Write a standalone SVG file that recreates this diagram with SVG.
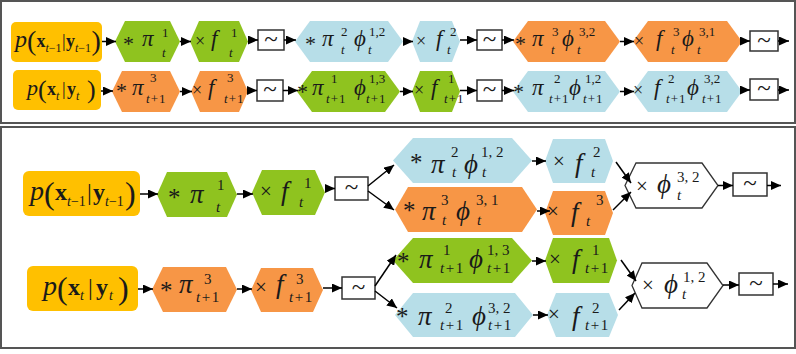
<svg xmlns="http://www.w3.org/2000/svg" width="796" height="354" viewBox="0 0 796 354">
<defs>
<marker id="ah" markerUnits="userSpaceOnUse" markerWidth="10" markerHeight="9" refX="10" refY="4.5" orient="auto"><path d="M0,0 L10,4.5 L0,9 z" fill="#000"/></marker>
<style>
text{font-family:"Liberation Serif","DejaVu Serif",serif;fill:#1a1a1a}
.i{font-style:italic}
.b{font-weight:bold}
.m1{font-size:23px;font-style:italic}
.s1{font-size:13px}
.m2{font-size:27px;font-style:italic}
.s2{font-size:15px}
.o1{font-size:18px}
.a1{font-size:22px}
.o2{font-size:21px}
.a2{font-size:25px}
.yel{fill:#FFC000}
.grn{fill:#8FC31F}
.org{fill:#F79646}
.blu{fill:#B7DEE8}
.wht{fill:#fff;stroke:#333;stroke-width:1.3}
.box{fill:#fff;stroke:#333;stroke-width:1.5}
.tl{font-size:25px;text-anchor:middle}
.cn line{stroke:#000;stroke-width:1.5;marker-end:url(#ah)}
.frame{fill:none;stroke:#555;stroke-width:2}
</style>
</defs>
<rect class="frame" x="1" y="1" width="794" height="122"/>
<rect class="frame" x="1" y="127" width="794" height="221"/>

<!-- ===== Top row 1 ===== -->
<g id="r1-prior">
<rect class="yel" x="11" y="22" width="91" height="40" rx="5"/>
<text><tspan class="i" font-size="24" x="15" y="47">p</tspan><tspan font-size="28" x="27" y="50">(</tspan><tspan class="b" font-size="18" x="36.5" y="47">x</tspan><tspan font-size="12" x="45.5" y="52"><tspan class="i">t</tspan>−1</tspan><tspan font-size="18" x="62" y="47">|</tspan><tspan class="b" font-size="18" x="66" y="47">y</tspan><tspan font-size="12" x="75" y="52"><tspan class="i">t</tspan>−1</tspan><tspan font-size="28" x="91.5" y="50">)</tspan></text>
</g>
<g id="r1-n1">
<polygon class="grn" points="115,41.5 125,21 170,21 180,41.5 170,62 125,62"/>
<text><tspan class="a1" x="123" y="51">*</tspan><tspan class="m1" x="142" y="46">π</tspan><tspan class="s1" x="162" y="37">1</tspan><tspan class="s1 i" x="162" y="57">t</tspan></text>
</g>
<g id="r1-n2">
<polygon class="grn" points="190,41.5 199,21 239,21 248,41.5 239,62 199,62"/>
<text><tspan class="o1" x="195" y="47">×</tspan><tspan class="m1" x="211" y="46">f</tspan><tspan class="s1" x="231" y="37">1</tspan><tspan class="s1 i" x="229" y="57">t</tspan></text>
</g>
<g id="r1-s1"><rect class="box" x="258" y="30" width="26" height="20"/><text class="tl" x="271" y="47">~</text></g>
<g id="r1-n3">
<polygon class="blu" points="295,41.5 310,21 388,21 403,41.5 388,62 310,62"/>
<text><tspan class="a1" x="305" y="51">*</tspan><tspan class="m1" x="322" y="46">π</tspan><tspan class="s1" x="341" y="36">2</tspan><tspan class="s1 i" x="341" y="54">t</tspan><tspan class="m1" x="354" y="46">ϕ</tspan><tspan class="s1" x="369" y="36">1,2</tspan><tspan class="s1 i" x="368" y="54">t</tspan></text>
</g>
<g id="r1-n4">
<polygon class="blu" points="412,41.5 420,21 452,21 460,41.5 452,62 420,62"/>
<text><tspan class="o1" x="416" y="47">×</tspan><tspan class="m1" x="436" y="46">f</tspan><tspan class="s1" x="450" y="36">2</tspan><tspan class="s1 i" x="447" y="54">t</tspan></text>
</g>
<g id="r1-s2"><rect class="box" x="477" y="30" width="25" height="20"/><text class="tl" x="489.5" y="47">~</text></g>
<g id="r1-n5">
<polygon class="org" points="513,41.5 528,21 605,21 620,41.5 605,62 528,62"/>
<text><tspan class="a1" x="515" y="51">*</tspan><tspan class="m1" x="532" y="46">π</tspan><tspan class="s1" x="552" y="36">3</tspan><tspan class="s1 i" x="551" y="54">t</tspan><tspan class="m1" x="562" y="46">ϕ</tspan><tspan class="s1" x="579" y="36">3,2</tspan><tspan class="s1 i" x="577" y="54">t</tspan></text>
</g>
<g id="r1-n6">
<polygon class="org" points="633,41.5 648,21 727,21 742,41.5 727,62 648,62"/>
<text><tspan class="o1" x="634" y="47">×</tspan><tspan class="m1" x="656" y="46">f</tspan><tspan class="s1" x="673" y="36">3</tspan><tspan class="s1 i" x="671" y="54">t</tspan><tspan class="m1" x="682" y="46">ϕ</tspan><tspan class="s1" x="699" y="36">3,1</tspan><tspan class="s1 i" x="697" y="54">t</tspan></text>
</g>
<g id="r1-s3"><rect class="box" x="750" y="31" width="28" height="20"/><text class="tl" x="764" y="48">~</text></g>

<!-- ===== Top row 2 ===== -->
<g id="r2-prior">
<rect class="yel" x="13" y="70" width="88" height="40" rx="5"/>
<text><tspan class="i" font-size="22" x="27" y="95">p</tspan><tspan font-size="26" x="38" y="98">(</tspan><tspan class="b" font-size="18" x="47" y="95">x</tspan><tspan class="i" font-size="12" x="56" y="100">t</tspan><tspan font-size="18" x="62" y="95">|</tspan><tspan class="b" font-size="18" x="67" y="95">y</tspan><tspan class="i" font-size="12" x="76" y="100">t</tspan><tspan font-size="26" x="87" y="98">)</tspan></text>
</g>
<g id="r2-n1">
<polygon class="org" points="112,91.5 122,71 170,71 180,91.5 170,112 122,112"/>
<text><tspan class="a1" x="116" y="98">*</tspan><tspan class="m1" x="132" y="95">π</tspan><tspan class="s1" x="150" y="82">3</tspan><tspan class="s1" x="146" y="103" letter-spacing="1"><tspan class="i">t</tspan>+1</tspan></text>
</g>
<g id="r2-n2">
<polygon class="org" points="191,91.5 200,71 239,71 248,91.5 239,112 200,112"/>
<text><tspan class="o1" x="192" y="96">×</tspan><tspan class="m1" x="208" y="95">f</tspan><tspan class="s1" x="227" y="82">3</tspan><tspan class="s1" x="224" y="103" letter-spacing="1"><tspan class="i">t</tspan>+1</tspan></text>
</g>
<g id="r2-s1"><rect class="box" x="257" y="80" width="26" height="21"/><text class="tl" x="270" y="97">~</text></g>
<g id="r2-n3">
<polygon class="grn" points="297,91.5 312,71 385,71 400,91.5 385,112 312,112"/>
<text><tspan class="a1" x="297" y="99">*</tspan><tspan class="m1" x="312" y="95">π</tspan><tspan class="s1" x="331" y="83">1</tspan><tspan class="s1" x="326" y="103" letter-spacing="1"><tspan class="i">t</tspan>+1</tspan><tspan class="m1" x="354" y="95">ϕ</tspan><tspan class="s1" x="369" y="83">1,3</tspan><tspan class="s1" x="366" y="103" letter-spacing="1"><tspan class="i">t</tspan>+1</tspan></text>
</g>
<g id="r2-n4">
<polygon class="grn" points="412,91.5 420,71 452,71 460,91.5 452,112 420,112"/>
<text><tspan class="o1" x="414" y="96">×</tspan><tspan class="m1" x="431" y="95">f</tspan><tspan class="s1" x="448" y="83">1</tspan><tspan class="s1" x="444" y="103" letter-spacing="1"><tspan class="i">t</tspan>+1</tspan></text>
</g>
<g id="r2-s2"><rect class="box" x="477" y="80" width="25" height="21"/><text class="tl" x="489.5" y="97">~</text></g>
<g id="r2-n5">
<polygon class="blu" points="513,91.5 528,71 605,71 620,91.5 605,112 528,112"/>
<text><tspan class="a1" x="513" y="99">*</tspan><tspan class="m1" x="532" y="95">π</tspan><tspan class="s1" x="554" y="83">2</tspan><tspan class="s1" x="549" y="103" letter-spacing="1"><tspan class="i">t</tspan>+1</tspan><tspan class="m1" x="569" y="95">ϕ</tspan><tspan class="s1" x="585" y="83">1,2</tspan><tspan class="s1" x="583" y="103" letter-spacing="1"><tspan class="i">t</tspan>+1</tspan></text>
</g>
<g id="r2-n6">
<polygon class="blu" points="633,91.5 648,71 727,71 742,91.5 727,112 648,112"/>
<text><tspan class="o1" x="633" y="96">×</tspan><tspan class="m1" x="654" y="95">f</tspan><tspan class="s1" x="668" y="83">2</tspan><tspan class="s1" x="666" y="103" letter-spacing="1"><tspan class="i">t</tspan>+1</tspan><tspan class="m1" x="687" y="95">ϕ</tspan><tspan class="s1" x="704" y="83">3,2</tspan><tspan class="s1" x="702" y="103" letter-spacing="1"><tspan class="i">t</tspan>+1</tspan></text>
</g>
<g id="r2-s3"><rect class="box" x="750" y="79" width="28" height="21"/><text class="tl" x="764" y="96">~</text></g>

<!-- ===== Bottom panel, upper flow ===== -->
<g id="b1-prior">
<rect class="yel" x="23" y="171" width="117" height="45" rx="6"/>
<text><tspan class="i" font-size="28" x="30" y="200">p</tspan><tspan font-size="32" x="44" y="204">(</tspan><tspan class="b" font-size="24" x="55" y="200">x</tspan><tspan font-size="14" x="67" y="206"><tspan class="i">t</tspan>−1</tspan><tspan font-size="24" x="87" y="200">|</tspan><tspan class="b" font-size="24" x="93" y="200">y</tspan><tspan font-size="14" x="105" y="206"><tspan class="i">t</tspan>−1</tspan><tspan font-size="32" x="125" y="204">)</tspan></text>
</g>
<g id="b1-n1">
<polygon class="grn" points="157,194.5 167,172 227,172 237,194.5 227,217 167,217"/>
<text><tspan class="a2" x="168" y="206">*</tspan><tspan class="m2" x="190" y="203">π</tspan><tspan class="s2" x="217" y="190">1</tspan><tspan class="s2 i" x="216" y="212">t</tspan></text>
</g>
<g id="b1-n2">
<polygon class="grn" points="252,192.5 262,170 315,170 325,192.5 315,215 262,215"/>
<text><tspan class="o2" x="260" y="198">×</tspan><tspan class="m2" x="281" y="200">f</tspan><tspan class="s2" x="304" y="188">1</tspan><tspan class="s2 i" x="299" y="207">t</tspan></text>
</g>
<g id="b1-s1"><rect class="box" x="335" y="177" width="33" height="23"/><text class="tl" x="351.5" y="195">~</text></g>
<g id="b1-n3">
<polygon class="blu" points="393,160.5 413,138 512,138 532,160.5 512,183 413,183"/>
<text><tspan class="a2" x="410" y="171">*</tspan><tspan class="m2" x="431" y="173">π</tspan><tspan class="s2" x="451" y="157">2</tspan><tspan class="s2 i" x="452" y="177">t</tspan><tspan class="m2" x="464" y="173">ϕ</tspan><tspan class="s2" x="481" y="157">1, 2</tspan><tspan class="s2 i" x="482" y="177">t</tspan></text>
</g>
<g id="b1-n4">
<polygon class="blu" points="545,161 553,139 605,139 613,161 605,183 553,183"/>
<text><tspan class="o2" x="553" y="168">×</tspan><tspan class="m2" x="575" y="172">f</tspan><tspan class="s2" x="593" y="157">2</tspan><tspan class="s2 i" x="591" y="177">t</tspan></text>
</g>
<g id="b1-n5">
<polygon class="org" points="395,209.5 408,187 522,187 537,209.5 522,232 408,232"/>
<text><tspan class="a2" x="403" y="219">*</tspan><tspan class="m2" x="422" y="220">π</tspan><tspan class="s2" x="441" y="205">3</tspan><tspan class="s2 i" x="442" y="225">t</tspan><tspan class="m2" x="456" y="220">ϕ</tspan><tspan class="s2" x="476" y="205">3, 1</tspan><tspan class="s2 i" x="477" y="225">t</tspan></text>
</g>
<g id="b1-n6">
<polygon class="org" points="545,213 553,191 605,191 613,213 605,235 553,235"/>
<text><tspan class="o2" x="547" y="218">×</tspan><tspan class="m2" x="571" y="221">f</tspan><tspan class="s2" x="596" y="205">3</tspan><tspan class="s2 i" x="586" y="226">t</tspan></text>
</g>
<g id="b1-n7">
<polygon class="wht" points="625,185.5 636,163 702,163 718,185.5 702,208 636,208"/>
<text><tspan class="o2" x="636" y="193">×</tspan><tspan class="m2" x="657" y="193">ϕ</tspan><tspan class="s2" x="677" y="182">3, 2</tspan><tspan class="s2 i" x="677" y="200">t</tspan></text>
</g>
<g id="b1-s2"><rect class="box" x="733" y="173" width="34" height="23"/><text class="tl" x="750" y="191">~</text></g>

<!-- ===== Bottom panel, lower flow ===== -->
<g id="b2-prior">
<rect class="yel" x="27" y="266" width="111" height="45" rx="6"/>
<text><tspan class="i" font-size="28" x="43" y="295">p</tspan><tspan font-size="32" x="57" y="299">(</tspan><tspan class="b" font-size="24" x="68" y="295">x</tspan><tspan class="i" font-size="14" x="80" y="300">t</tspan><tspan font-size="24" x="88" y="295">|</tspan><tspan class="b" font-size="24" x="96" y="295">y</tspan><tspan class="i" font-size="14" x="109" y="300">t</tspan><tspan font-size="32" x="118" y="299">)</tspan></text>
</g>
<g id="b2-n1">
<polygon class="org" points="152,289.5 163,267 226,267 237,289.5 226,312 163,312"/>
<text><tspan class="a2" x="160" y="299">*</tspan><tspan class="m2" x="179" y="293">π</tspan><tspan class="s2" x="204" y="284">3</tspan><tspan class="s2" x="196" y="302" letter-spacing="1.5"><tspan class="i">t</tspan>+1</tspan></text>
</g>
<g id="b2-n2">
<polygon class="org" points="251,290 261,268 313,268 323,290 313,312 261,312"/>
<text><tspan class="o2" x="255" y="294">×</tspan><tspan class="m2" x="276" y="293">f</tspan><tspan class="s2" x="296" y="284">3</tspan><tspan class="s2" x="289" y="302" letter-spacing="1.5"><tspan class="i">t</tspan>+1</tspan></text>
</g>
<g id="b2-s1"><rect class="box" x="342" y="277" width="33" height="22"/><text class="tl" x="358.5" y="295">~</text></g>
<g id="b2-n3">
<polygon class="grn" points="393,260.5 413,238 512,238 532,260.5 512,283 413,283"/>
<text><tspan class="a2" x="397" y="270">*</tspan><tspan class="m2" x="419" y="268">π</tspan><tspan class="s2" x="443" y="255">1</tspan><tspan class="s2" x="440" y="273" letter-spacing="1.5"><tspan class="i">t</tspan>+1</tspan><tspan class="m2" x="469" y="268">ϕ</tspan><tspan class="s2" x="487" y="255">1, 3</tspan><tspan class="s2" x="487" y="273" letter-spacing="1.5"><tspan class="i">t</tspan>+1</tspan></text>
</g>
<g id="b2-n4">
<polygon class="grn" points="545,260.5 553,238 609,238 617,260.5 609,283 553,283"/>
<text><tspan class="o2" x="549" y="266">×</tspan><tspan class="m2" x="572" y="268">f</tspan><tspan class="s2" x="592" y="255">1</tspan><tspan class="s2" x="585" y="273" letter-spacing="1.5"><tspan class="i">t</tspan>+1</tspan></text>
</g>
<g id="b2-n5">
<polygon class="blu" points="395,315 413,293 515,293 533,315 515,337 413,337"/>
<text><tspan class="a2" x="396" y="325">*</tspan><tspan class="m2" x="418" y="325">π</tspan><tspan class="s2" x="445" y="313">2</tspan><tspan class="s2" x="440" y="330" letter-spacing="1.5"><tspan class="i">t</tspan>+1</tspan><tspan class="m2" x="472" y="325">ϕ</tspan><tspan class="s2" x="488" y="313">3, 2</tspan><tspan class="s2" x="488" y="330" letter-spacing="1.5"><tspan class="i">t</tspan>+1</tspan></text>
</g>
<g id="b2-n6">
<polygon class="blu" points="547,315 556,293 609,293 618,315 609,337 556,337"/>
<text><tspan class="o2" x="548" y="321">×</tspan><tspan class="m2" x="572" y="325">f</tspan><tspan class="s2" x="592" y="313">2</tspan><tspan class="s2" x="585" y="330" letter-spacing="1.5"><tspan class="i">t</tspan>+1</tspan></text>
</g>
<g id="b2-n7">
<polygon class="wht" points="632,285.5 642,263 707,263 723,285.5 707,308 642,308"/>
<text><tspan class="o2" x="642" y="292">×</tspan><tspan class="m2" x="664" y="293">ϕ</tspan><tspan class="s2" x="683" y="282">1, 2</tspan><tspan class="s2 i" x="682" y="299">t</tspan></text>
</g>
<g id="b2-s2"><rect class="box" x="739" y="273" width="34" height="22"/><text class="tl" x="756" y="291">~</text></g>

<!-- ===== Connectors ===== -->
<g id="connectors" class="cn">
<line x1="102" y1="41.5" x2="116" y2="41.5"/>
<line x1="180" y1="41.5" x2="191" y2="41.5"/>
<line x1="248" y1="40" x2="258" y2="40"/>
<line x1="284" y1="40" x2="296" y2="40"/>
<line x1="403" y1="41.5" x2="413" y2="41.5"/>
<line x1="460" y1="40" x2="477" y2="40"/>
<line x1="502" y1="40" x2="514" y2="40"/>
<line x1="620" y1="41.5" x2="634" y2="41.5"/>
<line x1="742" y1="41" x2="750" y2="41"/>
<line x1="778" y1="41" x2="789" y2="41"/>

<line x1="101" y1="91" x2="113" y2="91"/>
<line x1="180" y1="91.5" x2="192" y2="91.5"/>
<line x1="248" y1="90.5" x2="257" y2="90.5"/>
<line x1="283" y1="90.5" x2="298" y2="90.5"/>
<line x1="400" y1="91.5" x2="413" y2="91.5"/>
<line x1="460" y1="90.5" x2="477" y2="90.5"/>
<line x1="502" y1="90.5" x2="514" y2="90.5"/>
<line x1="620" y1="91.5" x2="634" y2="91.5"/>
<line x1="742" y1="90" x2="750" y2="90"/>
<line x1="778" y1="90" x2="789" y2="90"/>

<line x1="140" y1="194" x2="158" y2="194"/>
<line x1="237" y1="194" x2="253" y2="194"/>
<line x1="325" y1="188.5" x2="335" y2="188.5"/>
<line x1="368" y1="186" x2="394" y2="165"/>
<line x1="368" y1="191" x2="394" y2="210"/>
<line x1="532" y1="161" x2="546" y2="161"/>
<line x1="537" y1="211" x2="550" y2="211"/>
<line x1="616" y1="162" x2="631" y2="183"/>
<line x1="613" y1="210" x2="631" y2="192"/>
<line x1="718" y1="185.5" x2="733" y2="185.5"/>
<line x1="767" y1="185.5" x2="781" y2="185.5"/>

<line x1="138" y1="289" x2="153" y2="289"/>
<line x1="237" y1="289" x2="252" y2="289"/>
<line x1="323" y1="288" x2="342" y2="288"/>
<line x1="375" y1="286" x2="396" y2="255"/>
<line x1="375" y1="291" x2="397" y2="308"/>
<line x1="532" y1="261" x2="546" y2="261"/>
<line x1="533" y1="315" x2="548" y2="315"/>
<line x1="621" y1="260" x2="636" y2="281"/>
<line x1="619" y1="310" x2="635" y2="293"/>
<line x1="723" y1="285" x2="739" y2="285"/>
<line x1="773" y1="284" x2="788" y2="284"/>
</g>
</svg>
